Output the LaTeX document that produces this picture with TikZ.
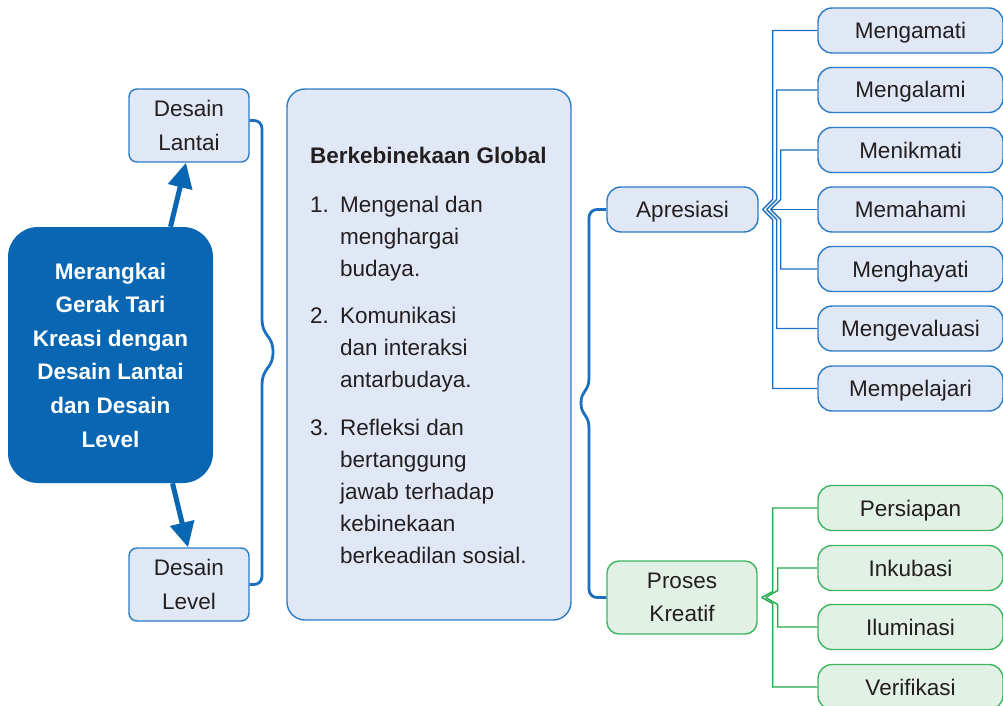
\documentclass[tikz,border=0pt]{standalone}
\usepackage{fontspec}
\setmainfont{Liberation Sans}
\usetikzlibrary{arrows.meta,calc}
\definecolor{mainblue}{HTML}{0866B3}
\definecolor{edgeblue}{HTML}{2A7BC6}
\definecolor{lightblue}{HTML}{E1E8F5}
\definecolor{lineblue}{HTML}{1A6FBF}
\definecolor{edgegreen}{HTML}{3DB55E}
\definecolor{lightgreen}{HTML}{E2F1E5}
\definecolor{linegreen}{HTML}{1EAA4B}
\definecolor{ink}{HTML}{231F20}
\begin{document}
\begin{tikzpicture}[x=1pt,y=-1pt,
  txt/.style={text=ink, font=\fontsize{22.5}{33.5}\selectfont},
  boxbase/.style={txt, line width=1.4pt, inner sep=0pt, align=center},
  bluebox/.style={boxbase, draw=edgeblue, fill=lightblue},
  greenbox/.style={boxbase, draw=edgegreen, fill=lightgreen},
  oneline/.style={text height=16pt, text depth=0pt},
  leaf/.style={minimum width=185pt, minimum height=45pt, rounded corners=14pt, oneline},
  listline/.style={txt, anchor=base west, inner sep=0pt},
  brace/.style={draw=lineblue, line width=2.8pt},
  bfan/.style={draw=lineblue, line width=1.4pt},
  gfan/.style={draw=linegreen, line width=1.4pt},
  arr/.style={draw=mainblue, line width=5pt, -{Triangle[length=25pt,width=24pt]}}]
\useasboundingbox (0,0) rectangle (1003,706);
\clip (0,0) rectangle (1003,706);

% left part
\node[fill=mainblue, text=white, inner sep=0pt, align=center,
      font=\fontsize{22.5}{33.6}\selectfont\bfseries,
      minimum width=205pt, minimum height=256pt, rounded corners=30pt]
      (main) at (110.5,355) {Merangkai\\Gerak Tari\\Kreasi dengan\\Desain Lantai\\dan Desain\\Level};
\node[bluebox, minimum width=120pt, minimum height=73pt, rounded corners=8pt]
      (lantai) at (189,125.5) {Desain\\Lantai};
\node[bluebox, minimum width=120pt, minimum height=73pt, rounded corners=8pt]
      (level) at (189,584.5) {Desain\\Level};
\draw[arr] ([xshift=60pt]main.north) -- ([xshift=-3pt]lantai.south);
\draw[arr] ([xshift=62pt]main.south) -- ([xshift=-1pt]level.north);

% big box
\node[bluebox, minimum width=284pt, minimum height=531pt, rounded corners=18pt]
      (big) at (429,354.5) {};
\node[listline, font=\fontsize{22.5}{33.5}\selectfont\bfseries] (head) at (310,163) {Berkebinekaan Global};
\node[listline] (n1) at (310,212) {1.};
\node[listline] (t1a) at (340,212) {Mengenal dan};
\node[listline] (t1b) at (340,244) {menghargai};
\node[listline] (t1c) at (340,276) {budaya.};
\node[listline] (n2) at (310,323) {2.};
\node[listline] (t2a) at (340,323) {Komunikasi};
\node[listline] (t2b) at (340,355) {dan interaksi};
\node[listline] (t2c) at (340,387) {antarbudaya.};
\node[listline] (n3) at (310,435) {3.};
\node[listline] (t3a) at (340,435) {Refleksi dan};
\node[listline] (t3b) at (340,467) {bertanggung};
\node[listline] (t3c) at (340,499) {jawab terhadap};
\node[listline] (t3d) at (340,531) {kebinekaan};
\node[listline] (t3e) at (340,563) {berkeadilan sosial.};

% brace 1
\draw[brace, rounded corners=8pt] ([yshift=5pt]lantai.east) -- (262,120.5) -- (262,318);
\draw[brace] (262,318) .. controls (262,338) and (273,334) .. (273,352)
                      .. controls (273,370) and (262,366) .. (262,386);
\draw[brace, rounded corners=8pt] (262,386) -- (262,584.5) -- (level.east);

% middle nodes
\node[bluebox, minimum width=151pt, minimum height=45pt, rounded corners=14pt, oneline]
      (apr) at (682.5,209.5) {Apresiasi};
\node[greenbox, minimum width=150pt, minimum height=73pt, rounded corners=12pt]
      (pk) at (682,597.5) {Proses\\Kreatif};

% brace 2
\draw[brace, rounded corners=8pt] (apr.west) -- (589,209.5) -- (589,378);
\draw[brace] (589,378) .. controls (589,392) and (581,390) .. (581,403)
                      .. controls (581,416) and (589,414) .. (589,428);
\draw[brace, rounded corners=8pt] (589,428) -- (589,597.5) -- (pk.west);

% right leaves blue
\node[bluebox, leaf] (m1) at (910.5,30.5) {Mengamati};
\node[bluebox, leaf] (m2) at (910.5,90) {Mengalami};
\node[bluebox, leaf] (m3) at (910.5,150) {Menikmati};
\node[bluebox, leaf] (m4) at (910.5,209.5) {Memahami};
\node[bluebox, leaf] (m5) at (910.5,269) {Menghayati};
\node[bluebox, leaf] (m6) at (910.5,328.5) {Mengevaluasi};
\node[bluebox, leaf] (m7) at (910.5,388.5) {Mempelajari};

% right leaves green
\node[greenbox, leaf] (g1) at (910.5,508) {Persiapan};
\node[greenbox, leaf] (g2) at (910.5,568) {Inkubasi};
\node[greenbox, leaf] (g3) at (910.5,627) {Iluminasi};
\node[greenbox, leaf] (g4) at (910.5,687) {Verifikasi};

% blue fan
\coordinate (atip) at ([xshift=4pt]apr.east);
\draw[bfan] (atip) -- ++(10,-10) |- (m1.west);
\draw[bfan] ($(atip)+(4,0)$) -- ++(10,-10) |- (m2.west);
\draw[bfan] ($(atip)+(8,0)$) -- ++(10,-10) |- (m3.west);
\draw[bfan] ($(atip)+(8,0)$) -- (m4.west);
\draw[bfan] ($(atip)+(8,0)$) -- ++(10,10) |- (m5.west);
\draw[bfan] ($(atip)+(4,0)$) -- ++(10,10) |- (m6.west);
\draw[bfan] (atip) -- ++(10,10) |- (m7.west);

% green fan
\coordinate (gtip) at ([xshift=4pt]pk.east);
\draw[gfan] (gtip) -- ++(11,-6) |- (g1.west);
\draw[gfan] ($(gtip)+(4,0)$) -- ++(12,-7) |- (g2.west);
\draw[gfan] ($(gtip)+(4,0)$) -- ++(12,7) |- (g3.west);
\draw[gfan] (gtip) -- ++(11,6) |- (g4.west);
\end{tikzpicture}
\end{document}
